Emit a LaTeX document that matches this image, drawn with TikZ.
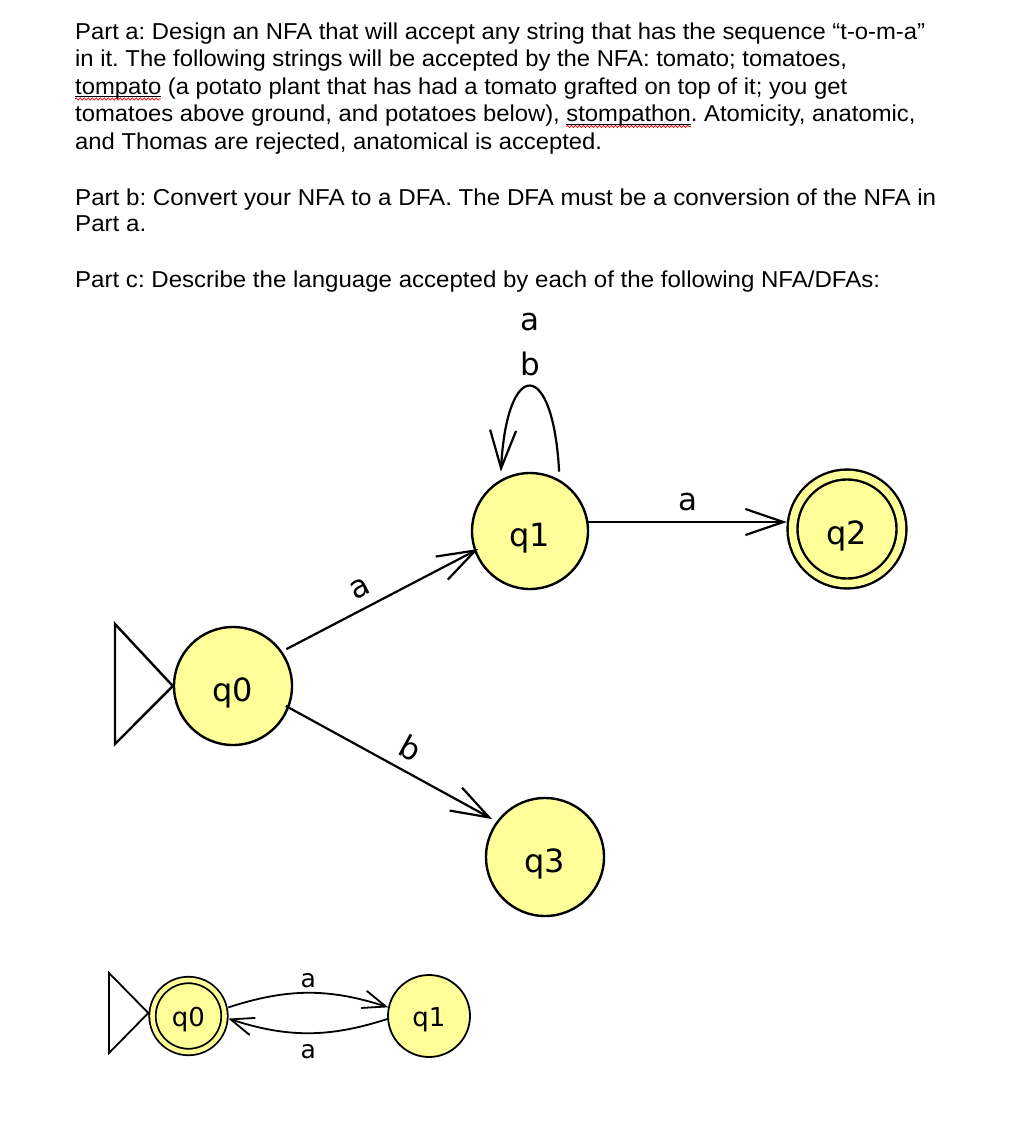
\documentclass[tikz,border=0pt]{standalone}
\usepackage{fontspec}
\setmainfont{Liberation Sans}
\newfontfamily\jf{DejaVu Sans}
\usetikzlibrary{arrows.meta,decorations.pathmorphing}
\definecolor{stfill}{RGB}{255,255,153}
\newsavebox\lbox
\newcommand\tf{\fontsize{23}{27}\selectfont}
\frenchspacing
\begin{document}
% --- scale factors for the text lines (measured before the picture)
\sbox\lbox{\tf Part a: Design an NFA that will accept any string that has the sequence “t-o-m-a”}%
\pgfmathsetmacro\sfa{850/\the\wd\lbox}%
\sbox\lbox{\tf Part b: Convert your NFA to a DFA. The DFA must be a conversion of the NFA in}%
\pgfmathsetmacro\sfb{861/\the\wd\lbox}%
\sbox\lbox{\tf Part c: Describe the language accepted by each of the following NFA/DFAs:}%
\pgfmathsetmacro\sfc{805/\the\wd\lbox}%
\sbox\lbox{\tf tompato}%
\pgfmathsetmacro\wA{\sfa*\the\wd\lbox}%
\sbox\lbox{\tf tomatoes above ground, and potatoes below), }%
\pgfmathsetmacro\sB{\sfa*\the\wd\lbox}%
\sbox\lbox{\tf stompathon}%
\pgfmathsetmacro\wB{\sfa*\the\wd\lbox}%
\begin{tikzpicture}[x=1pt,y=-1pt,
  txt/.style={anchor=base west, inner sep=0pt, font=\tf},
  state/.style={circle, draw=black, line width=2.4pt, fill=stfill, minimum size=118pt, inner sep=0pt, text height=31.4pt, text depth=0pt, font=\jf\fontsize{32}{36}\selectfont},
  accept/.style={double=stfill, double distance=7.5pt, minimum size=109pt},
  sstate/.style={circle, draw=black, line width=1.8pt, fill=stfill, minimum size=80pt, inner sep=0pt, text height=21pt, text depth=0pt, font=\jf\fontsize{26}{30}\selectfont},
  saccept/.style={double=stfill, double distance=4.6pt, minimum size=72pt},
  ghost/.style={circle, minimum size=120pt, inner sep=0pt},
  edge/.style={line width=2.2pt, -{Straight Barb[length=38pt,width=26pt]}},
  sedge/.style={line width=1.8pt, -{Straight Barb[length=23pt,width=18pt]}},
  lab/.style={font=\jf\fontsize{31}{45}\selectfont, inner sep=0pt},
  slab/.style={font=\jf\fontsize{25}{30}\selectfont, inner sep=0pt},
  wavy/.style={draw=red, line width=0.7pt, decorate, decoration={snake, amplitude=1.1pt, segment length=4pt}},
  uline/.style={draw=black, line width=1pt}
]
\fill[white] (0,0) rectangle (1015,1146);
\useasboundingbox (0,0) rectangle (1015,1146);
% --- text
\node[txt] (la1) at (75,39) {\scalebox{\sfa}[1]{Part a: Design an NFA that will accept any string that has the sequence “t-o-m-a”}};
\node[txt] (la2) at (75,66.7) {\scalebox{\sfa}[1]{in it. The following strings will be accepted by the NFA: tomato; tomatoes,}};
\node[txt] (la3) at (75,94.3) {\scalebox{\sfa}[1]{tompato (a potato plant that has had a tomato grafted on top of it; you get}};
\node[txt] (la4) at (75,121.7) {\scalebox{\sfa}[1]{tomatoes above ground, and potatoes below), stompathon. Atomicity, anatomic,}};
\node[txt] (la5) at (75,149.3) {\scalebox{\sfa}[1]{and Thomas are rejected, anatomical is accepted.}};
\draw[uline] (75,96.5) -- ++(\wA,0);
\path[wavy] (75,99) -- ++(\wA,0);
\draw[uline] (75+\sB,124) -- ++(\wB,0);
\path[wavy] (75+\sB,126.5) -- ++(\wB,0);
\node[txt] (lb1) at (75,205) {\scalebox{\sfb}[1]{Part b: Convert your NFA to a DFA. The DFA must be a conversion of the NFA in}};
\node[txt] (lb2) at (75,231) {\scalebox{\sfb}[1]{Part a.}};
\node[txt] (lc1) at (75,287) {\scalebox{\sfc}[1]{Part c: Describe the language accepted by each of the following NFA/DFAs:}};
% --- first automaton
\node[state] (q0) at (233,686) {q0};
\node[state, minimum size=116pt] (q1) at (530,531) {q1};
\node[state, accept] (q2) at (847,529) {q2};
\node[state] (q3) at (545,857) {q3};
\node[ghost] (q0e) at (233,677) {};
\node[ghost, minimum size=116pt] (q1e) at (530,522) {};
\node[ghost] (q2e) at (847,522) {};
\node[ghost] (q3e) at (545,848) {};
\draw[line width=2.4pt, line join=miter] (q0.west) -- (115,624) -- (115,744) -- cycle;
\draw[edge] (q0e) -- node[lab, pos=0.43, sloped, above=10pt] {a} (q1e);
\draw[edge] (q0e) -- node[lab, pos=0.55, sloped, above=10pt] {b} (q3e);
\draw[edge] (q1e) -- node[lab, above=10pt] {a} (q2e);
\draw[edge] (q1e.60) .. controls +(-6,-114) and +(6,-114) .. node[lab, pos=0.5, above=8.6pt, align=center] {a\\b} (q1e.120);
% --- second automaton
\node[sstate, saccept] (b0) at (188.5,1016) {q0};
\node[sstate, minimum size=82pt] (b1) at (429,1016) {q1};
\node[ghost, minimum size=80pt] (b0e) at (188.5,1013) {};
\node[ghost, minimum size=82pt] (b1e) at (429,1013) {};
\draw[line width=1.8pt, line join=miter] (b0e.west) -- (109,973) -- (109,1053) -- cycle;
\draw[sedge] (b0e.8) to[bend left=18] node[slab, above=4pt] {a} (b1e.172);
\draw[sedge] (b1e.188) to[bend left=18] node[slab, below=10pt] {a} (b0e.-8);
\end{tikzpicture}
\end{document}
